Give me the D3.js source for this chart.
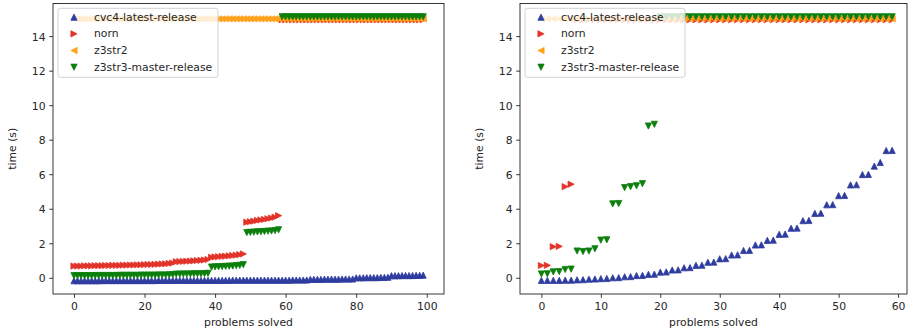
<!DOCTYPE html>
<html><head><meta charset="utf-8">
<script src="https://cdn.jsdelivr.net/npm/d3@7/dist/d3.min.js"></script>
<style>
html,body{margin:0;padding:0;background:#fff;}
svg{display:block;font-family:"DejaVu Sans",sans-serif;}
</style></head><body>
<svg id="chart" width="913" height="335"></svg>
<script>
// ---------------- DATA ----------------
const seriesNames = ["cvc4-latest-release", "norn", "z3str2", "z3str3-master-release"];
const yTicks = [0, 2, 4, 6, 8, 10, 12, 14];
const leftXTicks = [0, 20, 40, 60, 80, 100];
const rightXTicks = [0, 10, 20, 30, 40, 50, 60];
const xLabel = "problems solved";
const yLabel = "time (s)";

const leftCvc4 = [
 -0.17,-0.17,-0.17,-0.17,-0.17,-0.17,-0.17,-0.17,-0.16,-0.16,
 -0.16,-0.16,-0.16,-0.16,-0.16,-0.16,-0.16,-0.16,-0.16,-0.16,
 -0.16,-0.16,-0.16,-0.16,-0.15,-0.15,-0.15,-0.15,-0.15,-0.15,
 -0.15,-0.15,-0.15,-0.15,-0.15,-0.15,-0.15,-0.15,-0.15,-0.15,
 -0.15,-0.15,-0.15,-0.15,-0.15,-0.14,-0.14,-0.14,-0.14,-0.14,
 -0.14,-0.14,-0.14,-0.14,-0.14,-0.14,-0.14,-0.14,-0.14,-0.14,
 -0.14,-0.14,-0.13,-0.13,-0.13,-0.13,-0.13,-0.09,-0.09,-0.09,
 -0.09,-0.08,-0.08,-0.08,-0.08,-0.08,-0.07,-0.07,-0.07,-0.07,
 0.00,0.00,0.00,0.01,0.01,0.01,0.01,0.02,0.02,0.03,
 0.12,0.12,0.12,0.13,0.13,0.13,0.13,0.14,0.14,0.15];
const leftNorn = [
 0.68,0.68,0.68,0.69,0.69,0.69,0.70,0.70,0.70,0.71,
 0.71,0.72,0.72,0.72,0.73,0.73,0.74,0.74,0.75,0.75,
 0.76,0.77,0.77,0.78,0.79,0.80,0.81,0.83,0.85,0.93,
 0.94,0.95,0.96,0.97,0.98,1.00,1.01,1.03,1.06,1.19,
 1.21,1.22,1.24,1.25,1.27,1.29,1.31,1.34,1.38,3.22,
 3.25,3.28,3.32,3.35,3.38,3.42,3.46,3.51,3.60,14.95,
 14.95,14.95,14.95,14.95,14.95,14.95,14.95,14.95,14.95,14.95,
 14.95,14.95,14.95,14.95,14.95,14.95,14.95,14.95,14.95,14.95,
 14.95,14.95,14.95,14.95,14.95,14.95,14.95,14.95,14.95,14.95,
 14.95,14.95,14.95,14.95,14.95,14.95,14.95,14.95,14.95,14.95];
const leftZ3str2 = [
 15,15,15,15,15,15,15,15,15,15, 15,15,15,15,15,15,15,15,15,15,
 15,15,15,15,15,15,15,15,15,15, 15,15,15,15,15,15,15,15,15,15,
 15,15,15,15,15,15,15,15,15,15, 15,15,15,15,15,15,15,15,15,15,
 15,15,15,15,15,15,15,15,15,15, 15,15,15,15,15,15,15,15,15,15,
 15,15,15,15,15,15,15,15,15,15, 15,15,15,15,15,15,15,15,15,15];
const leftZ3str3 = [
 0.12,0.12,0.12,0.12,0.12,0.12,0.13,0.13,0.13,0.13,
 0.13,0.13,0.13,0.14,0.14,0.14,0.14,0.14,0.14,0.15,
 0.15,0.15,0.15,0.15,0.16,0.16,0.16,0.17,0.18,0.21,
 0.21,0.22,0.22,0.22,0.23,0.23,0.23,0.24,0.26,0.62,
 0.63,0.64,0.65,0.66,0.67,0.68,0.70,0.72,0.76,2.62,
 2.63,2.64,2.66,2.67,2.68,2.70,2.71,2.73,2.78,15.12,
 15.12,15.12,15.12,15.12,15.12,15.12,15.12,15.12,15.12,15.12,
 15.12,15.12,15.12,15.12,15.12,15.12,15.12,15.12,15.12,15.12,
 15.12,15.12,15.12,15.12,15.12,15.12,15.12,15.12,15.12,15.12,
 15.12,15.12,15.12,15.12,15.12,15.12,15.12,15.12,15.12,15.12];

const rightCvc4 = [
 -0.15,-0.15,-0.15,-0.15,-0.14,-0.14,-0.12,-0.11,-0.08,-0.07,
 -0.05,-0.04,0.00,0.01,0.06,0.07,0.13,0.14,0.20,0.21,
 0.33,0.34,0.45,0.46,0.58,0.59,0.72,0.73,0.90,0.91,
 1.10,1.11,1.32,1.33,1.58,1.59,1.90,1.91,2.17,2.18,
 2.52,2.53,2.87,2.88,3.31,3.32,3.73,3.74,4.23,4.24,
 4.76,4.77,5.38,5.39,5.98,5.99,6.47,6.68,7.37,7.38];
const rightNorn = [
 0.71,0.72,1.80,1.82,5.28,5.42,14.95,14.95,14.95,14.95,
 14.95,14.95,14.95,14.95,14.95,14.95,14.95,14.95,14.95,14.95,
 14.95,14.95,14.95,14.95,14.95,14.95,14.95,14.95,14.95,14.95,
 14.95,14.95,14.95,14.95,14.95,14.95,14.95,14.95,14.95,14.95,
 14.95,14.95,14.95,14.95,14.95,14.95,14.95,14.95,14.95,14.95,
 14.95,14.95,14.95,14.95,14.95,14.95,14.95,14.95,14.95,14.95];
const rightZ3str2 = [
 15,15,15,15,15,15,15,15,15,15, 15,15,15,15,15,15,15,15,15,15,
 15,15,15,15,15,15,15,15,15,15, 15,15,15,15,15,15,15,15,15,15,
 15,15,15,15,15,15,15,15,15,15, 15,15,15,15,15,15,15,15,15,15];
const rightZ3str3 = [
 0.22,0.23,0.34,0.36,0.48,0.50,1.55,1.52,1.55,1.68,
 2.18,2.20,4.28,4.30,5.22,5.28,5.33,5.45,8.79,8.89,
 15.12,15.12,15.12,15.12,15.12,15.12,15.12,15.12,15.12,15.12,
 15.12,15.12,15.12,15.12,15.12,15.12,15.12,15.12,15.12,15.12,
 15.12,15.12,15.12,15.12,15.12,15.12,15.12,15.12,15.12,15.12,
 15.12,15.12,15.12,15.12,15.12,15.12,15.12,15.12,15.12,15.12];

// ---------------- STYLE ----------------
const seriesColors = ["#2f3c9f", "#e2332a", "#ffa21c", "#0b7f0b"];
const seriesShapes = ["up", "right", "left", "down"];
const FONT = 10.8;
const TEXT = "#262626";

function markerPath(shape, h) {
  switch (shape) {
    case "up": return `M0,${-h}L${h},${h}L${-h},${h}Z`;
    case "down": return `M0,${h}L${h},${-h}L${-h},${-h}Z`;
    case "right": return `M${h},0L${-h},${-h}L${-h},${h}Z`;
    case "left": return `M${-h},0L${h},${-h}L${h},${h}Z`;
  }
}

const svg = d3.select("#chart");

function drawPanel(cfg) {
  const { x0, x1, y0, y1, xDomain, xTicks, series } = cfg;
  const x = d3.scaleLinear().domain(xDomain).range([x0, x1]);
  const y = d3.scaleLinear().domain([-0.94, 15.89]).range([y1, y0]);
  const g = svg.append("g");

  // markers
  series.forEach((vals, si) => {
    g.append("g").selectAll("path").data(vals).join("path")
      .attr("d", markerPath(seriesShapes[si], 3.1))
      .attr("transform", (d, i) => `translate(${x(i)},${y(d)})`)
      .attr("fill", seriesColors[si])
      .attr("stroke", seriesColors[si])
      .attr("stroke-width", 0.8)
      .attr("stroke-linejoin", "miter");
  });

  // axes
  const xAxis = d3.axisBottom(x).tickValues(xTicks).tickSize(3.8).tickPadding(3.6).tickFormat(d3.format("d"));
  const yAxis = d3.axisLeft(y).tickValues(yTicks).tickSize(3.8).tickPadding(3.6).tickFormat(d3.format("d"));
  const gx = g.append("g").attr("transform", `translate(0,${y1})`).call(xAxis);
  const gy = g.append("g").attr("transform", `translate(${x0},0)`).call(yAxis);
  [gx, gy].forEach(a => {
    a.select(".domain").remove();
    a.selectAll(".tick line").attr("stroke", "#222").attr("stroke-width", 0.9);
    a.selectAll(".tick text").attr("fill", TEXT).style("font-size", FONT + "px")
      .style("font-family", '"DejaVu Sans", sans-serif');
  });
  gx.selectAll(".tick text").attr("dy", null).attr("y", 0)
    .attr("transform", `translate(0,${3.8 + 3.6 + 8.1})`);
  gy.selectAll(".tick text").attr("dy", null).attr("y", 3.9);

  // frame
  g.append("rect").attr("x", x0).attr("y", y0).attr("width", x1 - x0).attr("height", y1 - y0)
    .attr("fill", "none").attr("stroke", "#222").attr("stroke-width", 0.9);

  // labels
  g.append("text").attr("x", (x0 + x1) / 2).attr("y", 325.5).attr("text-anchor", "middle")
    .attr("fill", TEXT).style("font-size", FONT + "px").text(xLabel);
  g.append("text").attr("transform", `translate(${x0 - 37},${(y0 + y1) / 2}) rotate(-90)`)
    .attr("text-anchor", "middle").attr("fill", TEXT).style("font-size", FONT + "px").text(yLabel);

  // legend
  const lx = x0 + 5, ly = y0 + 4.8, lw = 160, lh = 69;
  const lg = g.append("g");
  lg.append("rect").attr("x", lx).attr("y", ly).attr("width", lw).attr("height", lh)
    .attr("rx", 2.5).attr("fill", "#fff").attr("fill-opacity", 0.8)
    .attr("stroke", "#cccccc").attr("stroke-width", 0.9);
  seriesNames.forEach((name, si) => {
    const ry = ly + 8.4 + si * 16.67;
    lg.append("path").attr("d", markerPath(seriesShapes[si], 3.1))
      .attr("transform", `translate(${lx + 16},${ry + 0.5})`)
      .attr("fill", seriesColors[si]).attr("stroke", seriesColors[si]).attr("stroke-width", 0.8);
    lg.append("text").attr("x", lx + 36).attr("y", ry + 3.9)
      .attr("fill", TEXT).style("font-size", FONT + "px").text(name);
  });
}

drawPanel({ x0: 53, x1: 444, y0: 3.5, y1: 294, xDomain: [-5.95, 104.9], xTicks: leftXTicks,
  series: [leftCvc4, leftNorn, leftZ3str2, leftZ3str3] });
drawPanel({ x0: 520, x1: 907, y0: 3.5, y1: 294, xDomain: [-3.6, 61.5], xTicks: rightXTicks,
  series: [rightCvc4, rightNorn, rightZ3str2, rightZ3str3] });
</script>
</body></html>
